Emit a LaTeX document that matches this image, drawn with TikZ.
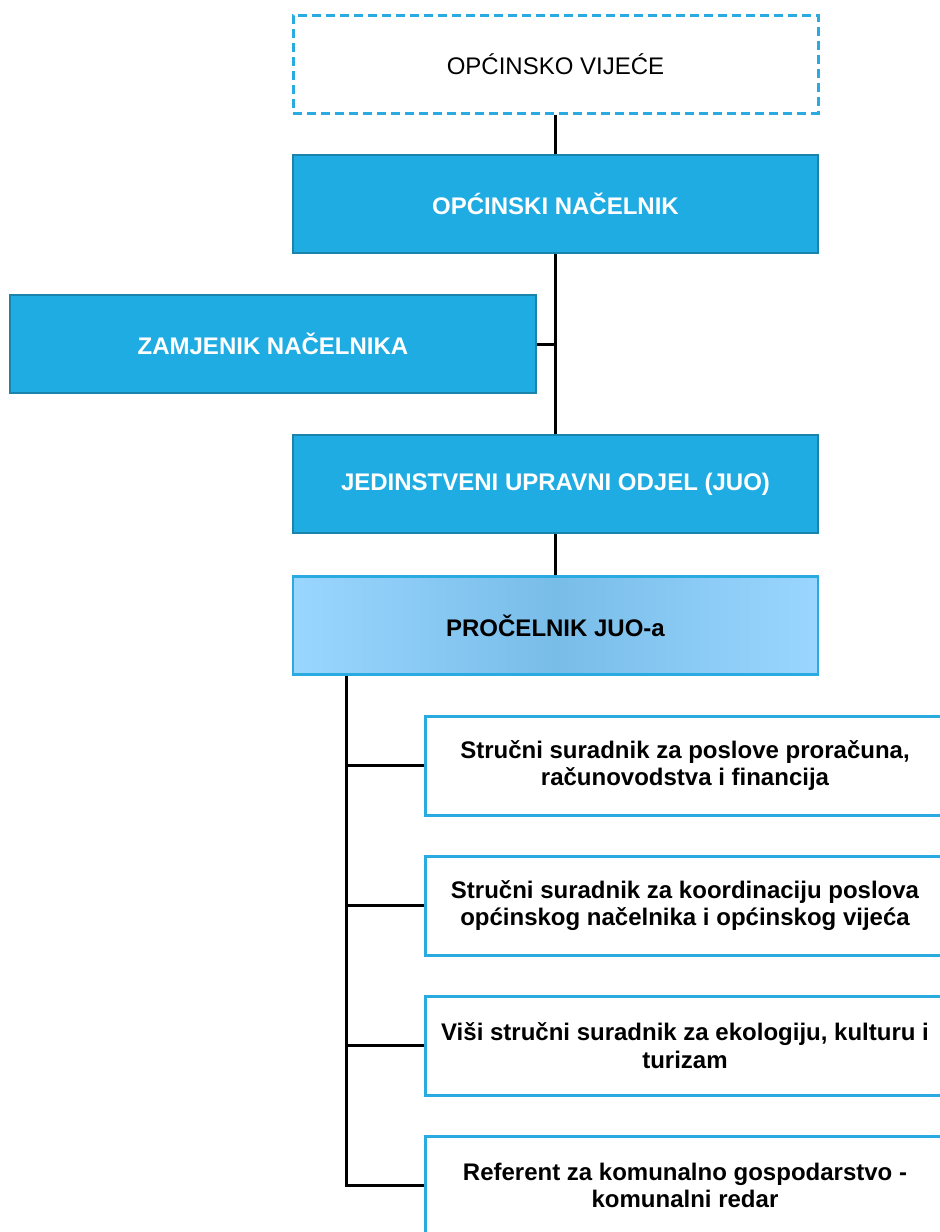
\documentclass[tikz,border=0pt]{standalone}
\usepackage{fontspec}
\setmainfont{Liberation Sans}
\definecolor{cfill}{HTML}{1FACE3}
\definecolor{cedge}{HTML}{1A84AA}
\definecolor{cline}{HTML}{29ABE2}
\definecolor{glight}{HTML}{9AD6FF}
\definecolor{gdark}{HTML}{78BDE8}
\begin{document}
\begin{tikzpicture}[x=1pt,y=-1pt,
  base/.style={minimum width=525pt, minimum height=98pt, inner sep=0pt, align=center,
    font=\fontsize{24}{27.6}\selectfont},
  dashbox/.style={base, draw=cline, line width=3pt, dash pattern=on 9pt off 5pt},
  bluebox/.style={base, fill=cfill, draw=cedge, line width=2.5pt, text=white, font=\fontsize{24}{27.6}\selectfont\bfseries},
  gradbox/.style={base, left color=glight, right color=glight, middle color=gdark, draw=cline, line width=2.5pt, font=\fontsize{24}{27.6}\selectfont\bfseries},
  staffbox/.style={base, minimum width=520pt, minimum height=99pt, draw=cline, line width=3pt, fill=white, font=\fontsize{24}{27.6}\selectfont\bfseries},
  conn/.style={line width=3pt, black}]
\clip (0,0) rectangle (940,1232);
\node[dashbox] (vijece) at (555.5,64) {OPĆINSKO VIJEĆE};
\node[bluebox] (nac) at (555.5,204) {OPĆINSKI NAČELNIK};
\node[bluebox, minimum width=526pt] (zam) at (273,344) {ZAMJENIK NAČELNIKA};
\node[bluebox] (juo) at (555.5,484) {JEDINSTVENI UPRAVNI ODJEL (JUO)};
\node[gradbox] (pro) at (555.5,625.5) {PROČELNIK JUO-a};
\node[staffbox] (s1) at (685,765.5) {Stručni suradnik za poslove proračuna,\\računovodstva i financija};
\node[staffbox] (s2) at (685,905.5) {Stručni suradnik za koordinaciju poslova\\općinskog načelnika i općinskog vijeća};
\node[staffbox] (s3) at (685,1045.5) {Viši stručni suradnik za ekologiju, kulturu i\\turizam};
\node[staffbox] (s4) at (685,1185.5) {Referent za komunalno gospodarstvo -\\komunalni redar};
\coordinate (spine) at (346,675);
\begin{scope}[on background layer/.try]
\end{scope}
\draw[conn] (vijece.south) -- (nac.north);
\draw[conn] (nac.south) -- (juo.north);
\draw[conn] (zam.east) -- (zam.east -| nac.south);
\draw[conn] (juo.south) -- (pro.north);
\draw[conn] (spine |- pro.south) -- (spine |- s4.west) -- (s4.west);
\draw[conn] (spine |- s1.west) -- (s1.west);
\draw[conn] (spine |- s2.west) -- (s2.west);
\draw[conn] (spine |- s3.west) -- (s3.west);
\end{tikzpicture}
\end{document}
